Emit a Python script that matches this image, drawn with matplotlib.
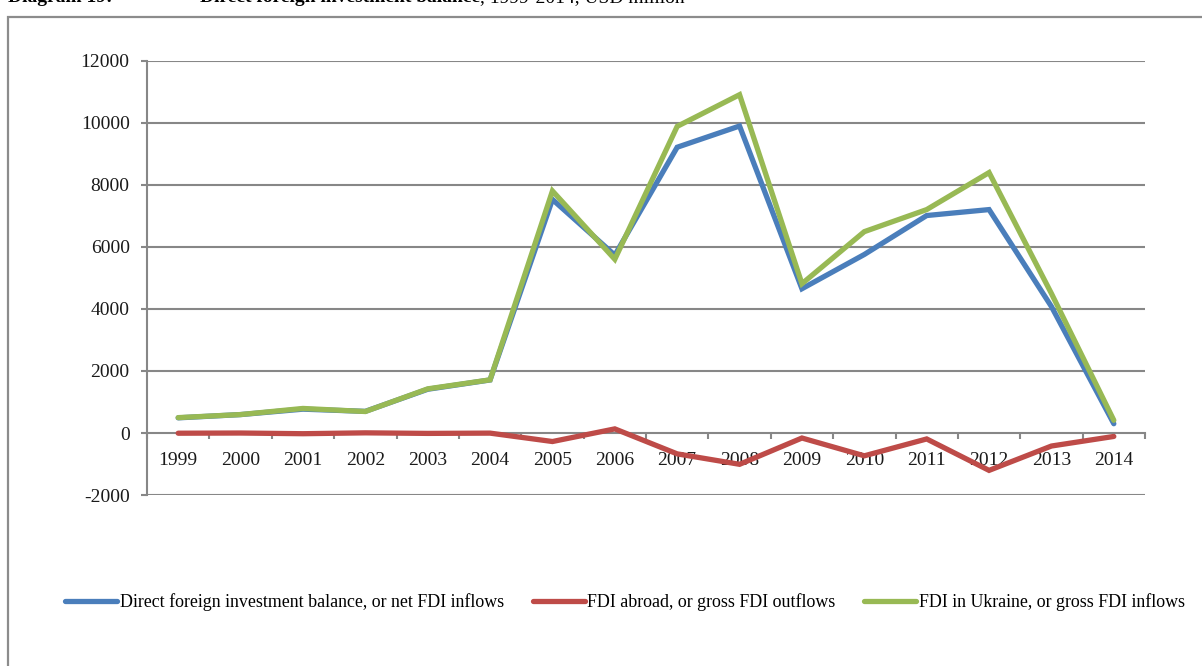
import matplotlib
matplotlib.use("Agg")
import matplotlib.pyplot as plt
from matplotlib.patches import Rectangle
from matplotlib.ticker import FixedLocator, NullFormatter, FixedFormatter

# Ukraine FDI, USD million
years = ["1999", "2000", "2001", "2002", "2003", "2004", "2005", "2006",
         "2007", "2008", "2009", "2010", "2011", "2012", "2013", "2014"]
net_fdi = [489, 594, 769, 698, 1411, 1711, 7533, 5737,
           9218, 9903, 4654, 5759, 7015, 7207, 4079, 299]
fdi_abroad = [-7, -1, -23, 5, -13, -4, -275, 133,
              -673, -1010, -162, -736, -192, -1206, -420, -111]
fdi_in_ukraine = [496, 595, 792, 693, 1424, 1715, 7808, 5604,
                  9891, 10913, 4816, 6495, 7207, 8401, 4499, 410]

series_labels = ["Direct foreign investment balance, or net FDI inflows",
                 "FDI abroad, or gross FDI outflows",
                 "FDI in Ukraine, or gross FDI inflows"]
series_colors = ["#4A7EBB", "#BE4B48", "#98B954"]
y_ticks = [-2000, 0, 2000, 4000, 6000, 8000, 10000, 12000]

plt.rcParams["font.family"] = ["Liberation Serif", "DejaVu Serif"]

W, H, DPI = 1202, 666, 100
fig = plt.figure(figsize=(W / DPI, H / DPI), dpi=DPI)
fig.patch.set_facecolor("white")

# outer frame of the chart object
fig.add_artist(Rectangle((8 / W, -0.05), 1.1, (1 - 17 / H) + 0.05,
                         transform=fig.transFigure, fill=False,
                         edgecolor="#8C8C8C", linewidth=1.6, clip_on=False))

# caption running along the top edge
cap_y = 1 - 2 / H
t1 = fig.text(8 / W, cap_y, "Diagram 19:", fontsize=14, fontweight="bold",
              va="baseline", ha="left")
t2 = fig.text(200 / W, cap_y, "Direct foreign investment balance",
              fontsize=14, fontweight="bold", va="baseline", ha="left")
fig.canvas.draw()
bb = t2.get_window_extent(fig.canvas.get_renderer())
fig.text(bb.x1 / W, cap_y, ", 1999-2014, USD million", fontsize=14,
         va="baseline", ha="left")

left, right, top, bottom = 147 / W, 1145 / W, 1 - 61 / H, 1 - 495 / H
ax = fig.add_axes([left, bottom, right - left, top - bottom])

x = list(range(len(years)))
grid_color = "#878787"

for yv in y_ticks:
    if yv != 0:
        ax.axhline(yv, color=grid_color, linewidth=1.5, zorder=1)

handles = []
for vals, lab, col in zip([net_fdi, fdi_abroad, fdi_in_ukraine],
                          series_labels, series_colors):
    h, = ax.plot(x, vals, color=col, linewidth=3.8, label=lab,
                 solid_joinstyle="miter", solid_capstyle="round", zorder=3)
    handles.append(h)

ax.set_xlim(-0.5, len(years) - 0.5)
ax.set_ylim(-2000, 12000)

for s in ["top", "right"]:
    ax.spines[s].set_visible(False)
ax.spines["left"].set_color(grid_color)
ax.spines["left"].set_linewidth(1.5)
ax.spines["bottom"].set_position(("data", 0))
ax.spines["bottom"].set_color(grid_color)
ax.spines["bottom"].set_linewidth(1.5)
ax.spines["bottom"].set_zorder(2)

ax.set_yticks(y_ticks)
ax.set_yticklabels([str(v) for v in y_ticks])
ax.tick_params(axis="y", length=4.5, width=1.5, color=grid_color, pad=8,
               labelsize=14, labelcolor="#1a1a1a")

# category boundaries carry the tick marks, category centres carry labels
ax.xaxis.set_major_locator(FixedLocator([i - 0.5 for i in range(len(years) + 1)]))
ax.xaxis.set_major_formatter(NullFormatter())
ax.xaxis.set_minor_locator(FixedLocator(x))
ax.xaxis.set_minor_formatter(FixedFormatter(years))
ax.tick_params(axis="x", which="major", length=4.5, width=1.5,
               color=grid_color, direction="out")
ax.tick_params(axis="x", which="minor", length=0, pad=14, labelsize=14,
               labelcolor="#1a1a1a")

fig.legend(handles=handles, labels=series_labels, loc="center",
           bbox_to_anchor=(625 / W, 1 - 602 / H), ncol=3, frameon=False,
           fontsize=12.9, handlelength=2.9, handletextpad=0.15,
           columnspacing=1.6, borderaxespad=0)

fig.savefig("out.png", dpi=DPI, facecolor="white")
